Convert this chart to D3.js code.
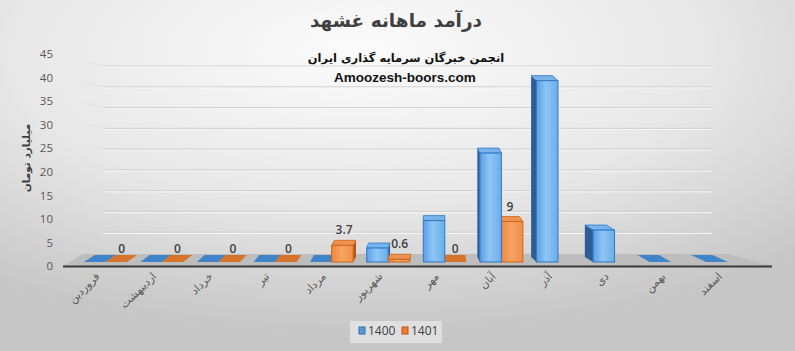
<!DOCTYPE html>
<html><head><meta charset="utf-8">
<script src="https://cdn.jsdelivr.net/npm/d3@7"></script>
<style>html,body{margin:0;padding:0;background:#fff}svg{display:block}</style>
</head><body>
<svg id="chart" width="795" height="351"></svg>
<script>
const categories = ["فروردین","اردیبهشت","خرداد","تیر","مرداد","شهریور","مهر","آبان","آذر","دی","بهمن","اسفند"];
const seriesNames = ["1400","1401"];
const values1400 = [0,0,0,0,0,3.1,9.2,24.2,40.3,7.1,0,0];
const values1401 = [0,0,0,0,3.7,0.6,0,9,null,null,null,null];
const yTicks = [0,5,10,15,20,25,30,35,40,45];
const title = "درآمد ماهانه غشهد";
const subtitle1 = "انجمن خبرگان سرمایه گذاری ایران";
const subtitle2 = "Amoozesh-boors.com";
const yTitle = "میلیارد تومان";

const W = 795, H = 351;
const svg = d3.select("#chart");
const defs = svg.append("defs");

const bg = defs.append("radialGradient").attr("id","bg").attr("cx","45%").attr("cy","15%").attr("r","80%");
bg.append("stop").attr("offset","0%").attr("stop-color","#fbfbfb");
bg.append("stop").attr("offset","55%").attr("stop-color","#e7e7e7");
bg.append("stop").attr("offset","100%").attr("stop-color","#c6c6c6");
svg.append("rect").attr("width",W).attr("height",H).attr("fill","url(#bg)");

function lg(id, stops){
  const g = defs.append("linearGradient").attr("id",id).attr("x1","0").attr("x2","1").attr("y1","0").attr("y2","0");
  stops.forEach(([o,c])=>g.append("stop").attr("offset",o).attr("stop-color",c));
}
lg("blueFront",[["0%","#5c9fe2"],["45%","#8ec5f5"],["100%","#6aaeea"]]);
lg("orangeFront",[["0%","#ee8440"],["45%","#f6a462"],["100%","#f08f4a"]]);

const colors = {
  "1400": {front:"url(#blueFront)", stroke:"#2f78c8", side:"#2d5e93", top:"#78b3ec", flat:"#3f83c8"},
  "1401": {front:"url(#orangeFront)", stroke:"#d0661a", side:"#b35716", top:"#ef9150", flat:"#d8732a"}
};

// scales
const x = d3.scaleBand().domain(categories).range([77, 756]);
const xs = d3.scaleBand().domain(seriesNames).range([-21.5, 21.5]);
const yBar = d3.scaleLinear().domain([0,45]).range([262, 59.5]);
const yAxisScale = d3.scaleLinear().domain([0,45]).range([266, 54]);
const yWall = d3.scaleLinear().domain([0,45]).range([253, 66]);
const skew = d3.scaleLinear().domain([100,440,620]).range([10,0,-9]);
const depth = 5, flatDepth = 7;

// gridlines on back wall
const grid = svg.append("g");
yTicks.filter(v=>v>0).forEach(v=>{
  const yy = yWall(v);
  grid.append("line").attr("x1",103).attr("x2",712).attr("y1",yy).attr("y2",yy).attr("stroke","#d2d2d2").attr("stroke-width",1.2);
  grid.append("line").attr("x1",103).attr("x2",712).attr("y1",yy+1.2).attr("y2",yy+1.2).attr("stroke","#f6f6f6").attr("stroke-width",1);
  grid.append("line").attr("x1",83).attr("x2",103).attr("y1",yy-5).attr("y2",yy).attr("stroke","#e0e0e0").attr("stroke-width",1);
});

// floor
const fl = x.range()[0]-14, fr = x.range()[1]+16;
svg.append("path")
  .attr("d", `M${fl},${yBar(0)+4} L${fr},${yBar(0)+4} L${fr-44},${yWall(0)+1} L${fl+20},${yWall(0)+1} Z`)
  .attr("fill","#bdbdbd");
svg.append("line").attr("x1",fl).attr("x2",fr).attr("y1",yBar(0)+4.5).attr("y2",yBar(0)+4.5)
  .attr("stroke","#3a3a3a").attr("stroke-width",2);

// bars
const barsG = svg.append("g");
const seriesVals = {"1400": values1400, "1401": values1401};
categories.forEach((c,i)=>{
  const cx = x(c) + x.bandwidth()/2;
  const order = cx > 440 ? seriesNames.slice().reverse() : seriesNames.slice();
  order.forEach(s=>{
    const v = seriesVals[s][i];
    if (v === null || v === undefined) return;
    const x0 = cx + xs(s), x1 = x0 + xs.bandwidth();
    const base = yBar(0);
    const col = colors[s];
    const mid = (x0+x1)/2;
    if (v === 0) {
      const dx = skew(mid)*1.1, dy = flatDepth;
      barsG.append("path").attr("d",`M${x0},${base} L${x1},${base} L${x1+dx},${base-dy} L${x0+dx},${base-dy} Z`)
        .attr("fill",col.flat);
      return;
    }
    const top = yBar(v);
    const dx = skew(mid), dy = depth;
    if (dx > 0) {
      barsG.append("path").attr("d",`M${x1},${top} L${x1+dx},${top-dy} L${x1+dx},${base-dy} L${x1},${base} Z`).attr("fill",col.side);
    } else if (dx < 0) {
      barsG.append("path").attr("d",`M${x0},${top} L${x0+dx},${top-dy} L${x0+dx},${base-dy} L${x0},${base} Z`).attr("fill",col.side);
    }
    barsG.append("path").attr("d",`M${x0},${top} L${x1},${top} L${x1+dx},${top-dy} L${x0+dx},${top-dy} Z`)
      .attr("fill",col.top).attr("stroke",col.stroke).attr("stroke-width",0.8);
    barsG.append("rect").attr("x",x0).attr("y",top).attr("width",x1-x0).attr("height",base-top)
      .attr("fill",col.front).attr("stroke",col.stroke).attr("stroke-width",1);
  });
});

// data labels for 1401
const lblG = svg.append("g");
categories.forEach((c,i)=>{
  const v = values1401[i];
  if (v === null || v === undefined) return;
  const cx = x(c) + x.bandwidth()/2;
  const x0 = cx + xs("1401"), mid = x0 + xs.bandwidth()/2;
  const top = yBar(v);
  const d = v === 0 ? flatDepth : depth;
  lblG.append("text").attr("x", mid + skew(mid)*0.6).attr("y", top - d - (v === 0 ? 2 : 6))
    .attr("text-anchor","middle").attr("font-family","'Open Sans', 'Liberation Sans', sans-serif")
    .attr("font-size",12).attr("font-weight",600).attr("fill","#404040").text(String(v));
});

// y axis labels
const yAxis = d3.axisLeft(yAxisScale).tickValues(yTicks).tickSize(0).tickPadding(0);
const ya = svg.append("g").attr("transform","translate(53,0)").call(yAxis);
ya.select(".domain").remove();
ya.selectAll("text").attr("font-family","'Open Sans', 'Liberation Sans', sans-serif").attr("font-size",11.5).attr("fill","#595959");

// x labels
const xl = svg.append("g");
categories.forEach(c=>{
  const cx = x(c) + x.bandwidth()/2;
  xl.append("text").attr("transform",`translate(${cx-5},${277}) rotate(-45)`)
    .attr("text-anchor","end").attr("font-family","'DejaVu Sans', sans-serif").attr("font-size",11)
    .attr("fill","#595959").text(c);
});

// titles
svg.append("text").attr("x",396).attr("y",27).attr("text-anchor","middle")
  .attr("font-family","'DejaVu Sans', sans-serif").attr("font-weight","bold").attr("font-size",18.5)
  .attr("fill","#404040").text(title);
svg.append("text").attr("x",406).attr("y",62).attr("text-anchor","middle")
  .attr("font-family","'DejaVu Sans', sans-serif").attr("font-weight","bold").attr("font-size",11.5)
  .attr("fill","#111").text(subtitle1);
svg.append("text").attr("x",405).attr("y",82).attr("text-anchor","middle")
  .attr("font-family","'Liberation Sans', sans-serif").attr("font-weight","bold").attr("font-size",13.5)
  .attr("fill","#111").text(subtitle2);

// y title
svg.append("text").attr("transform","translate(30,158) rotate(-90)").attr("text-anchor","middle")
  .attr("font-family","'DejaVu Sans', sans-serif").attr("font-weight","bold").attr("font-size",10.5)
  .attr("fill","#404040").text(yTitle);

// legend
const leg = svg.append("g");
leg.append("rect").attr("x",350).attr("y",321).attr("width",92).attr("height",22).attr("fill","#eaeaea").attr("opacity",0.7);
const legItems = [{s:"1400", fill:"#5b9bd5", stroke:"#2f6fb0", x:359},{s:"1401", fill:"#ed7d31", stroke:"#c0561a", x:402}];
legItems.forEach(d=>{
  leg.append("rect").attr("x",d.x).attr("y",327).attr("width",6).attr("height",7)
    .attr("fill",d.fill).attr("stroke",d.stroke).attr("stroke-width",1);
  leg.append("text").attr("x",d.x+9).attr("y",335).attr("font-family","'Open Sans', 'Liberation Sans', sans-serif")
    .attr("font-size",12).attr("fill","#404040").text(d.s);
});
</script>
</body></html>
